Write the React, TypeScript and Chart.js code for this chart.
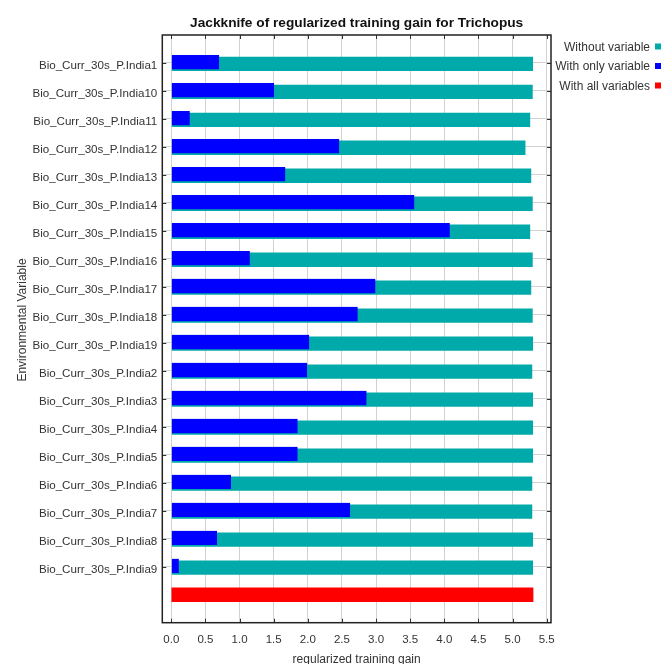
import React, { useEffect, useRef } from 'react';
import { Chart, registerables } from 'chart.js';

Chart.register(...registerables);

const variables = [
  'Bio_Curr_30s_P.India1',
  'Bio_Curr_30s_P.India10',
  'Bio_Curr_30s_P.India11',
  'Bio_Curr_30s_P.India12',
  'Bio_Curr_30s_P.India13',
  'Bio_Curr_30s_P.India14',
  'Bio_Curr_30s_P.India15',
  'Bio_Curr_30s_P.India16',
  'Bio_Curr_30s_P.India17',
  'Bio_Curr_30s_P.India18',
  'Bio_Curr_30s_P.India19',
  'Bio_Curr_30s_P.India2',
  'Bio_Curr_30s_P.India3',
  'Bio_Curr_30s_P.India4',
  'Bio_Curr_30s_P.India5',
  'Bio_Curr_30s_P.India6',
  'Bio_Curr_30s_P.India7',
  'Bio_Curr_30s_P.India8',
  'Bio_Curr_30s_P.India9',
];

const withoutVariable = [
  5.3, 5.295, 5.26, 5.19, 5.275, 5.295, 5.26, 5.295, 5.275, 5.295,
  5.3, 5.29, 5.3, 5.3, 5.3, 5.29, 5.29, 5.3, 5.3,
];

const withOnlyVariable = [
  0.7, 1.505, 0.27, 2.46, 1.67, 3.56, 4.08, 1.15, 2.99, 2.73,
  2.02, 1.99, 2.86, 1.85, 1.85, 0.875, 2.62, 0.67, 0.11,
];

const withAllVariables = 5.3;

const xTicks = [0, 0.5, 1, 1.5, 2, 2.5, 3, 3.5, 4, 4.5, 5, 5.5];

const legendItems = [
  { label: 'Without variable', color: '#00AAAA' },
  { label: 'With only variable', color: '#0000FF' },
  { label: 'With all variables', color: '#FF0000' },
];

const chartTitle = 'Jackknife of regularized training gain for Trichopus';
const xTitle = 'regularized training gain';
const yTitle = 'Environmental Variable';

const FONT = '"Liberation Sans", Arial, sans-serif';

export default function App() {
  const canvasRef = useRef<HTMLCanvasElement | null>(null);

  useEffect(() => {
    const canvas = canvasRef.current;
    if (!canvas) return;

    // labels: top pad, variables, red (all variables) row, bottom pad
    const labels = ['', ...variables, '', ''];
    const nVar = variables.length;
    const pad = (arr: (number | null)[]) => [null, ...arr, null, null];

    const frame = {
      id: 'frame',
      afterDraw(chart: any) {
        const { ctx, chartArea } = chart;
        const { left, right, top, bottom } = chartArea;
        const xs = chart.scales.x;
        const ys = chart.scales.y;
        ctx.save();
        // inward ticks
        ctx.strokeStyle = '#333';
        ctx.lineWidth = 1;
        ctx.beginPath();
        xTicks.forEach((v) => {
          const px = Math.round(xs.getPixelForValue(v)) + 0.5;
          ctx.moveTo(px, top);
          ctx.lineTo(px, top + 4);
          ctx.moveTo(px, bottom);
          ctx.lineTo(px, bottom - 4);
        });
        for (let i = 1; i <= nVar; i++) {
          const py = Math.round(ys.getPixelForValue(i)) + 0.5;
          ctx.moveTo(left, py);
          ctx.lineTo(left + 4, py);
          ctx.moveTo(right, py);
          ctx.lineTo(right - 4, py);
        }
        ctx.stroke();
        // box
        ctx.strokeStyle = '#222';
        ctx.lineWidth = 1.5;
        ctx.strokeRect(left, top, right - left, bottom - top);
        // title
        ctx.fillStyle = '#111';
        ctx.font = `bold 13.7px ${FONT}`;
        ctx.textAlign = 'center';
        ctx.textBaseline = 'alphabetic';
        ctx.fillText(chartTitle, (left + right) / 2, 27);
        // y axis title
        ctx.save();
        ctx.translate(23, 320);
        ctx.rotate(-Math.PI / 2);
        ctx.font = `12px ${FONT}`;
        ctx.fillStyle = '#333';
        ctx.textAlign = 'center';
        ctx.textBaseline = 'middle';
        ctx.fillText(yTitle, 0, 0);
        ctx.restore();
        // legend
        ctx.font = `12px ${FONT}`;
        ctx.textAlign = 'right';
        ctx.textBaseline = 'middle';
        legendItems.forEach((it, i) => {
          const y = 47.5 + i * 19.5;
          ctx.fillStyle = '#333';
          ctx.fillText(it.label, 650, y);
          ctx.fillStyle = it.color;
          ctx.fillRect(655, y - 4, 6, 6);
        });
        ctx.restore();
      },
    };

    const chart = new Chart(canvas, {
      type: 'bar',
      data: {
        labels,
        datasets: [
          {
            label: 'With only variable',
            data: pad(withOnlyVariable),
            backgroundColor: '#0000FF',
            borderColor: 'rgba(0,0,0,0)',
            borderWidth: { top: 0, bottom: 2, left: 0, right: 0 } as any,
            barThickness: 16,
            grouped: false,
          } as any,
          {
            label: 'Without variable',
            data: pad(withoutVariable),
            backgroundColor: '#00AAAA',
            borderColor: 'rgba(0,0,0,0)',
            borderWidth: { top: 2, bottom: 0, left: 0, right: 0 } as any,
            barThickness: 16,
            grouped: false,
          } as any,
          {
            label: 'With all variables',
            data: [...new Array(nVar + 1).fill(null), withAllVariables, null],
            backgroundColor: '#FF0000',
            barThickness: 14,
            grouped: false,
          } as any,
        ],
      },
      options: {
        indexAxis: 'y',
        responsive: false,
        animation: false,
        devicePixelRatio: 1,
        layout: { padding: { top: 35, right: 116, left: 0, bottom: 0 } },
        plugins: {
          legend: { display: false },
          tooltip: { enabled: false },
          title: { display: false },
        },
        scales: {
          x: {
            type: 'linear',
            min: -0.132,
            max: 5.563,
            afterBuildTicks: (scale: any) => {
              scale.ticks = xTicks.map((v) => ({ value: v }));
            },
            afterFit: (scale: any) => {
              scale.height = 41.3;
            },
            grid: { color: '#d2d2d2', drawTicks: false, lineWidth: 1 },
            border: { display: false },
            ticks: {
              font: { family: FONT, size: 11.5 },
              color: '#333',
              padding: 10,
              callback: (v: any) => Number(v).toFixed(1),
            },
            title: {
              display: true,
              text: xTitle,
              font: { family: FONT, size: 12 },
              color: '#333',
              padding: { top: 0, bottom: -3 },
            },
          },
          y: {
            type: 'category',
            offset: false,
            afterFit: (scale: any) => {
              scale.width = 162.3;
            },
            grid: {
              offset: false,
              drawTicks: false,
              color: (ctx: any) =>
                ctx.index >= 1 && ctx.index <= nVar ? '#d2d2d2' : 'rgba(0,0,0,0)',
            },
            border: { display: false },
            ticks: {
              autoSkip: false,
              font: { family: FONT, size: 11.6 },
              color: '#333',
              padding: 5,
              labelOffset: 3,
            },
            title: { display: false },
          },
        },
      },
      plugins: [frame],
    } as any);

    return () => chart.destroy();
  }, []);

  return (
    <div style={{ position: 'absolute', left: 0, top: 0, width: 667, height: 664, background: '#fff' }}>
      <canvas ref={canvasRef} width={667} height={664} />
    </div>
  );
}
